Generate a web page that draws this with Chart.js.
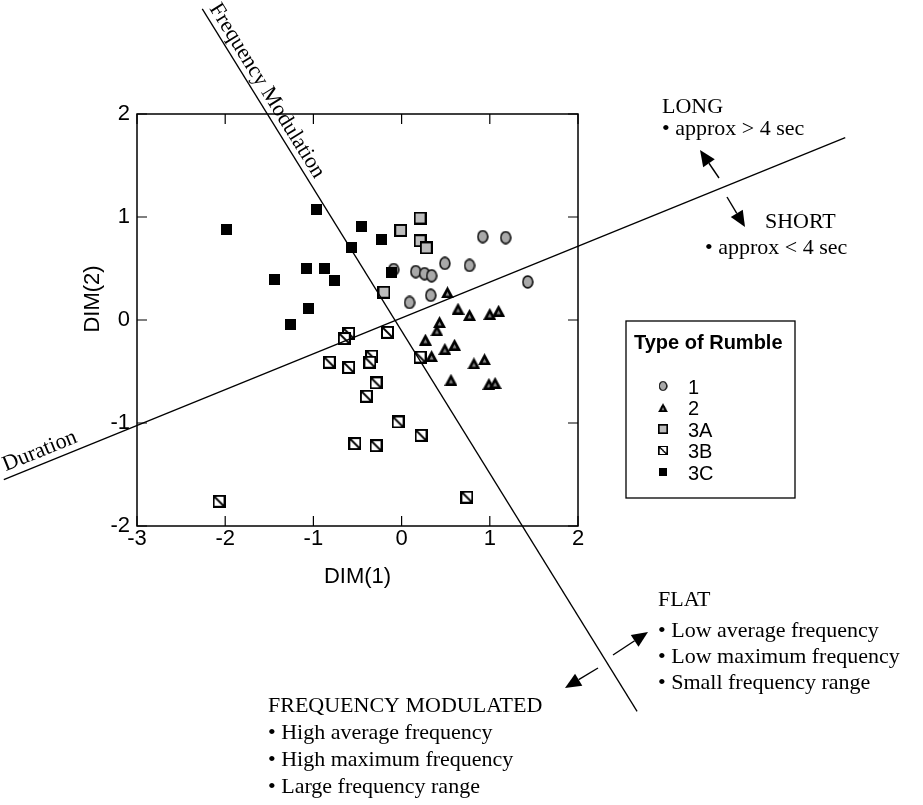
<!DOCTYPE html>
<html>
<head>
<meta charset="utf-8">
<script src="https://cdn.jsdelivr.net/npm/chart.js@4.4.1/dist/chart.umd.min.js"></script>
<style>
  html, body { margin: 0; padding: 0; background: #fff; }
  canvas { display: block; }
</style>
</head>
<body>
<canvas id="chart" width="923" height="805"></canvas>
<script>
'use strict';

// ─── DATA ────────────────────────────────────────────────────────────────────

const xTicks = [-3, -2, -1, 0, 1, 2];
const yTicks = [-2, -1, 0, 1, 2];

const type1X = [0.92, 1.18, 0.49, 0.77, 1.43, -0.09, 0.16, 0.26, 0.34, 0.33, 0.09];
const type1Y = [0.81, 0.80, 0.55, 0.53, 0.37, 0.49, 0.47, 0.45, 0.43, 0.24, 0.17];

const type2X = [0.52, 0.64, 0.77, 1.00, 1.10, 0.43, 0.40, 0.27, 0.49, 0.60, 0.34, 0.82, 0.94, 0.56, 0.99, 1.06];
const type2Y = [0.27, 0.11, 0.05, 0.06, 0.09, -0.02, -0.10, -0.19, -0.28, -0.24, -0.35, -0.42, -0.38, -0.58, -0.62, -0.61];

const type3AX = [0.21, -0.01, 0.21, 0.28, -0.20];
const type3AY = [0.99, 0.87, 0.77, 0.70, 0.27];

const type3BX = [-0.60, -0.65, -0.16, 0.21, -0.82, -0.60, -0.34, -0.36, -0.29, -0.40, -0.04, 0.22, -0.53, -0.29, -2.07, 0.74];
const type3BY = [-0.13, -0.18, -0.12, -0.36, -0.41, -0.46, -0.35, -0.41, -0.61, -0.74, -0.99, -1.12, -1.20, -1.22, -1.76, -1.72];

const type3CX = [-1.98, -0.96, -0.46, -0.23, -0.57, -1.08, -0.87, -0.76, -1.44, -1.05, -1.26, -0.12];
const type3CY = [0.88, 1.07, 0.91, 0.78, 0.70, 0.50, 0.50, 0.38, 0.39, 0.11, -0.04, 0.46];

// interpretive axes (data units, run past the frame)
const durationLineX = [-4.51, 5.03];
const durationLineY = [-1.55, 1.77];
const fmLineX = [-2.26, 2.67];
const fmLineY = [3.02, -3.80];

const legendLabels = ['1', '2', '3A', '3B', '3C'];

// ─── STYLE ───────────────────────────────────────────────────────────────────

const SANS  = '"Liberation Sans", Arial, Helvetica, sans-serif';
const SERIF = '"Liberation Serif", "Times New Roman", serif';

function pts(xs, ys) { return xs.map((x, i) => ({ x, y: ys[i] })); }

function makeMarker(kind) {
  const c = document.createElement('canvas');
  const g = c.getContext('2d');
  if (kind === '1') {
    c.width = 12; c.height = 14;
    g.beginPath(); g.ellipse(6, 7, 4.9, 5.9, 0, 0, Math.PI * 2);
    g.fillStyle = '#a9a9a9'; g.fill();
    g.lineWidth = 1.6; g.strokeStyle = '#111'; g.stroke();
  } else if (kind === '2') {
    c.width = 13; c.height = 12;
    g.beginPath(); g.moveTo(6.5, 0); g.lineTo(0, 12); g.lineTo(13, 12); g.closePath();
    g.fillStyle = '#000'; g.fill();
    g.beginPath(); g.moveTo(6.5, 5.5); g.lineTo(4.5, 9.5); g.lineTo(8.5, 9.5); g.closePath();
    g.fillStyle = '#8a8a8a'; g.fill();
  } else if (kind === '3A') {
    c.width = 13; c.height = 13;
    g.fillStyle = '#bdbdbd'; g.fillRect(1, 1, 11, 11);
    g.lineWidth = 2; g.strokeStyle = '#000'; g.strokeRect(1, 1, 11, 11);
  } else if (kind === '3B') {
    c.width = 13; c.height = 13;
    g.fillStyle = '#fff'; g.fillRect(1, 1, 11, 11);
    g.lineWidth = 2; g.strokeStyle = '#000'; g.strokeRect(1, 1, 11, 11);
    g.lineWidth = 1.8;
    g.beginPath(); g.moveTo(1.5, 1.5); g.lineTo(11.5, 11.5); g.stroke();
  } else {
    c.width = 11; c.height = 11;
    g.fillStyle = '#000'; g.fillRect(0, 0, 11, 11);
  }
  return c;
}

const markers = {};
legendLabels.forEach(k => { markers[k] = makeMarker(k); });

function arrow(ctx, x1, y1, x2, y2) {
  const a = Math.atan2(y2 - y1, x2 - x1);
  const L = 16, W = 7;
  const bx = x2 - L * Math.cos(a), by = y2 - L * Math.sin(a);
  ctx.beginPath(); ctx.moveTo(x1, y1); ctx.lineTo(bx, by); ctx.stroke();
  ctx.beginPath();
  ctx.moveTo(x2, y2);
  ctx.lineTo(bx + W * Math.sin(a), by - W * Math.cos(a));
  ctx.lineTo(bx - W * Math.sin(a), by + W * Math.cos(a));
  ctx.closePath(); ctx.fill();
}

// text running along an axis line, starting near its first end
function lineLabel(ctx, chart, xs, ys, text, along, off) {
  const sx = chart.scales.x, sy = chart.scales.y;
  const x1 = sx.getPixelForValue(xs[0]), y1 = sy.getPixelForValue(ys[0]);
  const x2 = sx.getPixelForValue(xs[1]), y2 = sy.getPixelForValue(ys[1]);
  const a = Math.atan2(y2 - y1, x2 - x1);
  const px = x1 + along * Math.cos(a) + off * Math.sin(a);
  const py = y1 + along * Math.sin(a) - off * Math.cos(a);
  ctx.save();
  ctx.translate(px, py);
  ctx.rotate(a);
  ctx.textAlign = 'left';
  ctx.textBaseline = 'alphabetic';
  ctx.fillText(text, 0, 0);
  ctx.restore();
}

// ─── DECOR PLUGIN (frame, inner ticks, notes, legend) ────────────────────────

const decor = {
  id: 'decor',
  afterDraw(chart) {
    const { ctx, chartArea: ca } = chart;
    const sx = chart.scales.x, sy = chart.scales.y;
    ctx.save();
    ctx.strokeStyle = '#000';
    ctx.fillStyle = '#000';

    // frame
    ctx.lineWidth = 1.5;
    ctx.strokeRect(ca.left, ca.top, ca.right - ca.left, ca.bottom - ca.top);

    // inner ticks on all four sides
    ctx.lineWidth = 1.2;
    ctx.beginPath();
    xTicks.forEach(v => {
      const p = sx.getPixelForValue(v);
      ctx.moveTo(p, ca.bottom); ctx.lineTo(p, ca.bottom - 10);
      ctx.moveTo(p, ca.top);    ctx.lineTo(p, ca.top + 10);
    });
    yTicks.forEach(v => {
      const p = sy.getPixelForValue(v);
      ctx.moveTo(ca.left, p);  ctx.lineTo(ca.left + 10, p);
      ctx.moveTo(ca.right, p); ctx.lineTo(ca.right - 10, p);
    });
    ctx.stroke();

    // y axis title
    ctx.save();
    ctx.font = `22px ${SANS}`;
    ctx.textAlign = 'center';
    ctx.textBaseline = 'middle';
    ctx.translate(93, 299);
    ctx.rotate(-Math.PI / 2);
    ctx.fillText('DIM(2)', 0, 0);
    ctx.restore();

    // axis-line labels
    ctx.font = `22px ${SERIF}`;
    lineLabel(ctx, chart, fmLineX, fmLineY, 'Frequency Modulation', 3, 6);
    lineLabel(ctx, chart, durationLineX, durationLineY, 'Duration', 5, 7);

    // notes
    ctx.textAlign = 'left';
    ctx.textBaseline = 'alphabetic';
    ctx.fillText('LONG', 662, 113);
    ctx.fillText('\u2022 approx > 4 sec', 662, 135);
    ctx.fillText('SHORT', 765, 228);
    ctx.fillText('\u2022 approx < 4 sec', 705, 254);

    ctx.fillText('FLAT', 658, 606);
    ctx.fillText('\u2022 Low average frequency', 658, 637);
    ctx.fillText('\u2022 Low maximum frequency', 658, 663);
    ctx.fillText('\u2022 Small frequency range', 658, 689);

    ctx.fillText('FREQUENCY MODULATED', 268, 712);
    ctx.fillText('\u2022 High average frequency', 268, 739);
    ctx.fillText('\u2022 High maximum frequency', 268, 766);
    ctx.fillText('\u2022 Large frequency range', 268, 793);

    // arrows
    ctx.lineWidth = 1.4;
    arrow(ctx, 719, 178, 700, 150);
    arrow(ctx, 727, 197, 745, 227);
    arrow(ctx, 613, 655, 648, 632);
    arrow(ctx, 598, 668, 565, 688);

    // legend box
    ctx.lineWidth = 1.3;
    ctx.strokeRect(626, 321, 169, 177);
    ctx.font = `bold 20px ${SANS}`;
    ctx.textBaseline = 'middle';
    ctx.fillText('Type of Rumble', 634, 343);
    ctx.font = `20px ${SANS}`;
    legendLabels.forEach((lab, i) => {
      const yy = 388 + i * 21.5;
      const m = markers[lab];
      const w = m.width * 0.75, h = m.height * 0.75;
      ctx.drawImage(m, 663 - w / 2, yy - h / 2 - 2, w, h);
      ctx.fillText(lab, 688, yy);
    });

    ctx.restore();
  }
};

// ─── CHART ───────────────────────────────────────────────────────────────────

const scatterSet = (label, xs, ys, order) => ({
  label,
  data: pts(xs, ys),
  pointStyle: markers[label],
  pointRadius: 6,
  order,
});

const lineSet = (label, xs, ys) => ({
  label,
  data: pts(xs, ys),
  showLine: true,
  borderColor: '#000',
  borderWidth: 1.3,
  pointRadius: 0,
  clip: false,
  order: 0,
});

new Chart(document.getElementById('chart'), {
  type: 'scatter',
  data: {
    datasets: [
      scatterSet('1',  type1X,  type1Y,  5),
      scatterSet('2',  type2X,  type2Y,  4),
      scatterSet('3A', type3AX, type3AY, 3),
      scatterSet('3B', type3BX, type3BY, 2),
      scatterSet('3C', type3CX, type3CY, 1),
      lineSet('Duration', durationLineX, durationLineY),
      lineSet('Frequency Modulation', fmLineX, fmLineY),
    ],
  },
  options: {
    responsive: false,
    animation: false,
    devicePixelRatio: 1,
    events: [],
    layout: { padding: { left: 0, right: 345, top: 114, bottom: 215 } },
    plugins: {
      legend:  { display: false },
      tooltip: { enabled: false },
    },
    scales: {
      x: {
        type: 'linear',
        min: -3, max: 2,
        afterBuildTicks: s => { s.ticks = xTicks.map(v => ({ value: v })); },
        afterFit: s => { s.height = 64; s.paddingLeft = 0; s.paddingRight = 0; },
        grid:   { display: false, drawTicks: false },
        border: { display: false },
        ticks:  { padding: 0, color: '#000', font: { family: SANS, size: 22 } },
        title:  { display: true, text: 'DIM(1)', color: '#000', padding: 0,
                  font: { family: SANS, size: 22 } },
      },
      y: {
        type: 'linear',
        min: -2, max: 2,
        afterBuildTicks: s => { s.ticks = yTicks.map(v => ({ value: v })); },
        afterFit: s => { s.width = 137; s.paddingTop = 0; s.paddingBottom = 0; },
        grid:   { display: false, drawTicks: false },
        border: { display: false },
        ticks:  { padding: 7, color: '#000', font: { family: SANS, size: 22 } },
      },
    },
  },
  plugins: [decor],
});
</script>
</body>
</html>
